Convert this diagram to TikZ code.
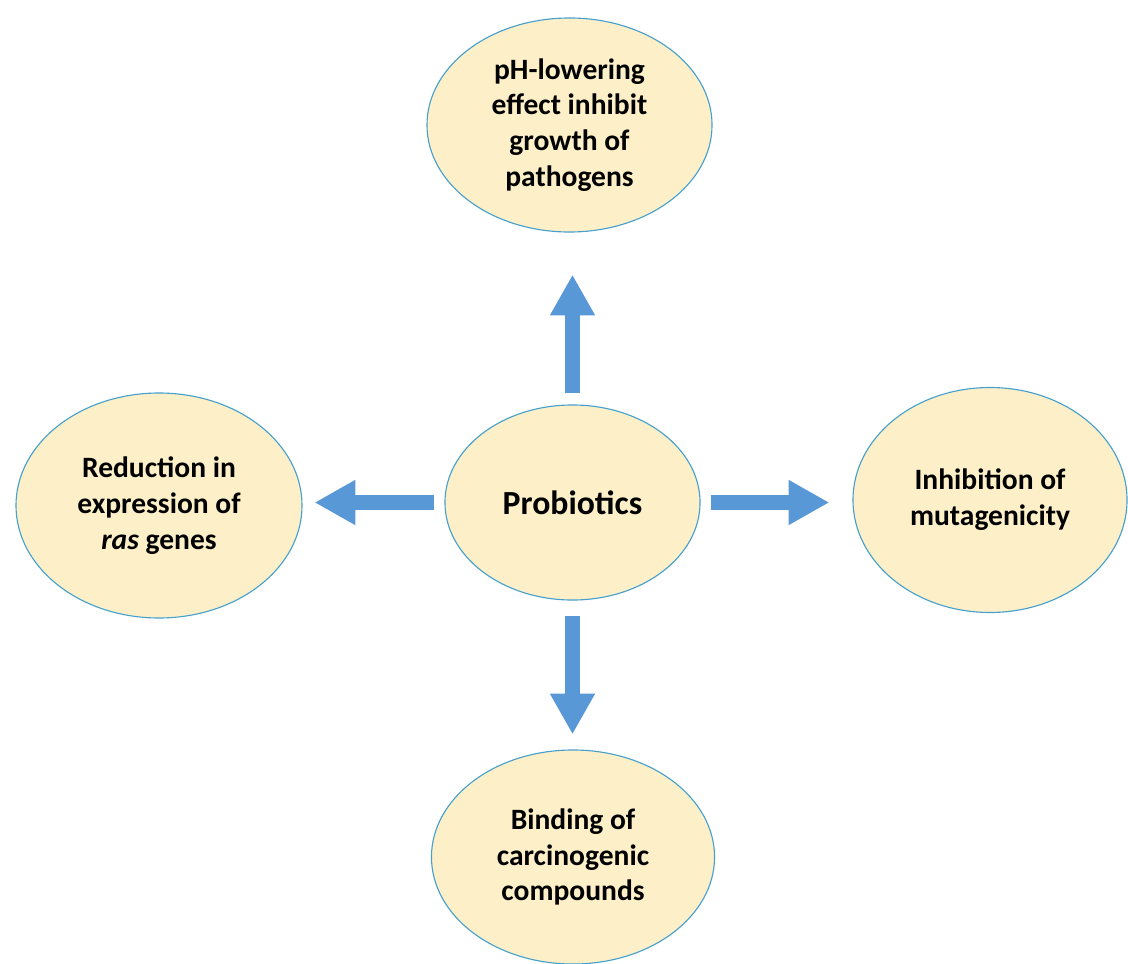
\documentclass[tikz,border=0pt]{standalone}
\usepackage{fontspec}
\setmainfont{Carlito}
\usetikzlibrary{arrows.meta,shapes.geometric,positioning}

\definecolor{bubblefill}{RGB}{253,240,201}
\definecolor{bubbleline}{RGB}{70,160,205}
\definecolor{arrowblue}{RGB}{88,152,214}

\begin{document}
\begin{tikzpicture}[x=0.025cm,y=-0.025cm,
    bubble/.style={ellipse,draw=bubbleline,line width=0.8pt,fill=bubblefill,inner sep=0,align=center,font=\bfseries\fontsize{21}{25.5}\selectfont},
    bigarrow/.style={draw=arrowblue,line width=10pt,-{Triangle[width=30pt,length=29pt]}}]

\useasboundingbox (0,0) rectangle (1128,964);

\node [bubble, minimum width=202.7pt, minimum height=152.2pt] (top) at (569.5,125) {pH-lowering\\effect inhibit\\growth of\\pathogens};
\node [bubble, minimum width=181.4pt, minimum height=138.7pt, font=\bfseries\fontsize{24}{28}\selectfont] (ctr) at (572.5,502.5) {Probiotics};
\node [bubble, minimum width=203.4pt, minimum height=160pt] (left) at (159,505.5) {Reduction in\\expression of\\\textit{ras} genes};
\node [bubble, minimum width=194.9pt, minimum height=160pt] (right) at (990,500) {Inhibition of\\mutagenicity};
\node [bubble, minimum width=201.3pt, minimum height=152.2pt] (bottom) at (573,857) {Binding of\\carcinogenic\\compounds};

\draw [bigarrow, shorten <=7.8pt, shorten >=29.9pt] (ctr.north) -- (ctr.north |- top.south);
\draw [bigarrow, shorten <=10.7pt, shorten >=10.7pt] (ctr.south) -- (ctr.south |- bottom.north);
\draw [bigarrow, shorten <=7.1pt, shorten >=8.5pt] (ctr.west) -- (ctr.west -| left.east);
\draw [bigarrow, shorten <=7.1pt, shorten >=16.4pt] (ctr.east) -- (ctr.east -| right.west);

\end{tikzpicture}
\end{document}
